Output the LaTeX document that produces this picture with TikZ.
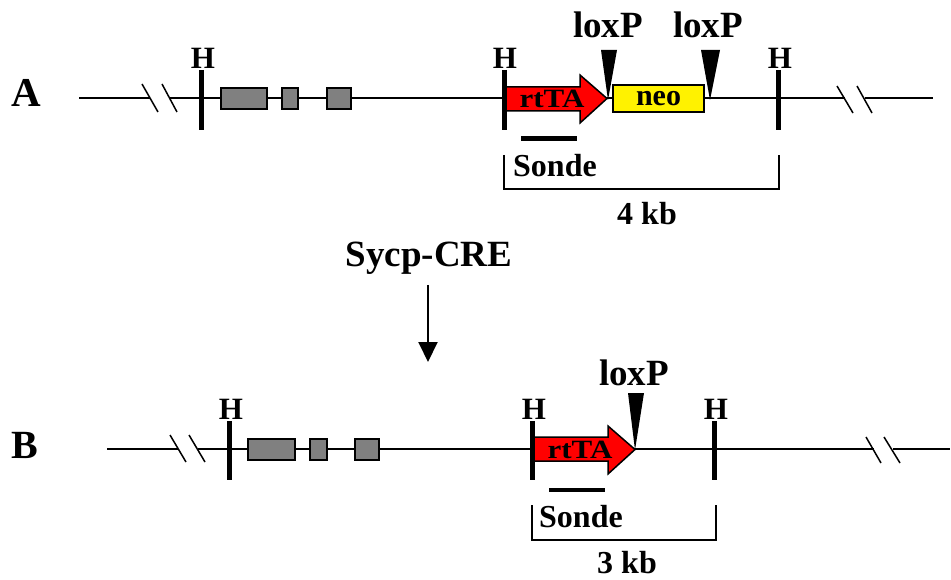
\documentclass[tikz,border=0pt]{standalone}
\usepackage{fontspec}
\setmainfont{Liberation Serif}
\usetikzlibrary{arrows.meta}
\begin{document}
\begin{tikzpicture}[x=1pt,y=-1pt,
  dna/.style={line width=2pt},
  brk/.style={line width=1.5pt},
  hbar/.style={line width=5pt},
  probe/.style={line width=4.5pt},
  exon/.style={draw=black,line width=1.5pt,fill=black!50,inner sep=0pt,minimum height=21pt},
  neobox/.style={draw=black,fill=yellow,line width=1.5pt,inner sep=0pt},
  rtta/.style={draw=black,fill=red,line width=1.5pt},
  lox/.style={fill=black},
  brack/.style={line width=1.5pt},
  lbl/.style={font=\bfseries\fontsize{#1}{#1}\selectfont, inner sep=0pt},
]
\useasboundingbox (0,0) rectangle (951,580);

% ---------------- Row A ----------------
\node[lbl=41] (la) at (26,93) {A};
\draw[dna] (79,98) -- (150,98);
\draw[dna] (170,98) -- (845,98);
\draw[dna] (865,98) -- (933,98);
\draw[brk] (142,84) -- (158,112);
\draw[brk] (162,84) -- (177,112);
\draw[brk] (837,86) -- (853,113);
\draw[brk] (857,86) -- (872,113);
% exons
\node[exon,minimum width=46pt] (a1) at (244,98.5) {};
\node[exon,minimum width=16pt] (a2) at (290,98.5) {};
\node[exon,minimum width=24pt] (a3) at (339,98.5) {};
% rtTA arrow
\draw[rtta] (504,87) -- (580,87) -- (580,75) -- (607,98.5) -- (580,123) -- (580,111) -- (504,111) -- cycle;
\node[lbl=31] (ra) at (552,99) {\scalebox{1}[0.85]{rtTA}};
% neo
\node[neobox,minimum width=91pt,minimum height=27pt] (neo) at (658.5,98.5) {};
\node[lbl=30] at (neo.center) {neo};
% loxP
\fill[lox] (601,50) -- (617,50) -- (608,100) -- cycle;
\fill[lox] (701,50) -- (720,50) -- (710,100) -- cycle;
\node[lbl=37] (lx1) at (608,25) {loxP};
\node[lbl=37] (lx2) at (708,25) {loxP};
% H sites
\draw[hbar] (201,70) -- (201,130);
\draw[hbar] (504,70) -- (504,130);
\draw[hbar] (778,70) -- (778,130);
\node[lbl=31] (ha1) at (203,58) {H};
\node[lbl=31] (ha2) at (505,58) {H};
\node[lbl=31] (ha3) at (780,58) {H};
% probe
\draw[probe] (521,138.5) -- (577,138.5);
\node[lbl=32,anchor=west] (sa) at (513,166) {Sonde};
\draw[brack] (504,155) -- (504,189) -- (779,189) -- (779,155);
\node[lbl=32] (kba) at (647,214) {4 kb};

% ---------------- CRE ----------------
\node[lbl=37] (cre) at (429,258) {Sycp-CRE};
\coordinate (c1) at (428,285);
\coordinate (c2) at (428,362);
\draw[line width=2pt,-{Triangle[length=20pt,width=19pt]}] (c1) -- (c2);

% ---------------- Row B ----------------
\node[lbl=40] (lb) at (25,445) {B};
\draw[dna] (107,449) -- (178,449);
\draw[dna] (198,449) -- (874,449);
\draw[dna] (893,449) -- (950,449);
\draw[brk] (170,435) -- (186,462);
\draw[brk] (189,435) -- (205,462);
\draw[brk] (866,437) -- (881,463);
\draw[brk] (884,437) -- (900,463);
\node[exon,minimum width=47pt] (b1) at (271.5,449.5) {};
\node[exon,minimum width=17pt] (b2) at (318.5,449.5) {};
\node[exon,minimum width=24pt] (b3) at (367,449.5) {};
\draw[rtta] (532,437) -- (608,437) -- (608,426) -- (635,449.5) -- (608,474) -- (608,461) -- (532,461) -- cycle;
\node[lbl=31] (rb) at (580,450) {\scalebox{1}[0.85]{rtTA}};
\fill[lox] (628,393) -- (644,393) -- (635,450) -- cycle;
\node[lbl=37] (lx3) at (634,373) {loxP};
\draw[hbar] (229,421) -- (229,480);
\draw[hbar] (532,421) -- (532,480);
\draw[hbar] (714,421) -- (714,480);
\node[lbl=31] (hb1) at (231,409) {H};
\node[lbl=31] (hb2) at (534,409) {H};
\node[lbl=31] (hb3) at (716,409) {H};
\draw[probe] (549,490) -- (605,490);
\node[lbl=32,anchor=west] (sb) at (539,517) {Sonde};
\draw[brack] (532,505) -- (532,540) -- (716,540) -- (716,505);
\node[lbl=32] (kbb) at (627,563) {3 kb};
\end{tikzpicture}
\end{document}
